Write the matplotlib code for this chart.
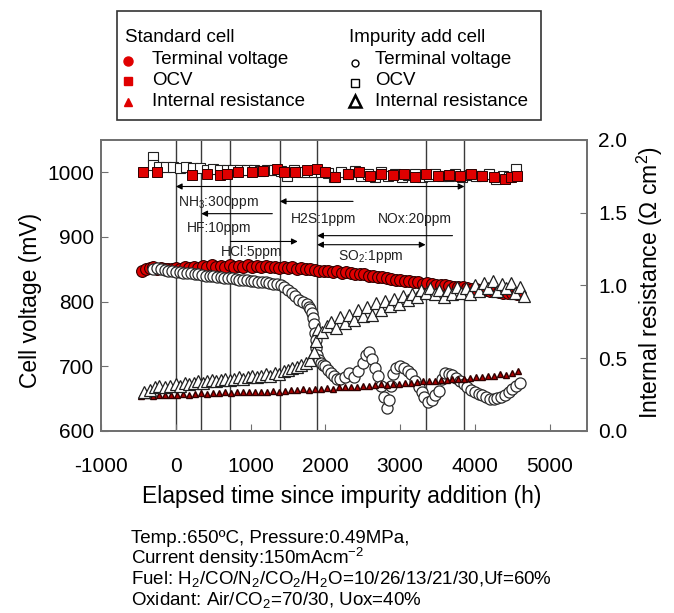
import matplotlib
matplotlib.use('Agg')
import matplotlib.pyplot as plt
from matplotlib.patches import Rectangle

plt.rcParams['font.family'] = ['Liberation Sans', 'DejaVu Sans']
plt.rcParams['mathtext.fontset'] = 'custom'
plt.rcParams['mathtext.rm'] = 'Liberation Sans'
plt.rcParams['mathtext.it'] = 'Liberation Sans:italic'
plt.rcParams['axes.unicode_minus'] = False

# --- data ---
# standard cell, terminal voltage (mV)
std_tv_t = [-450, -400, -350, -300, -250, -200, -150, -100, -50, 0,
            60, 120, 180, 240, 300, 360, 420, 480, 540, 600,
            660, 720, 780, 840, 900, 960, 1020, 1080, 1140, 1200,
            1260, 1320, 1380, 1440, 1500, 1560, 1620, 1680, 1740, 1800,
            1860, 1920, 1980, 2040, 2100, 2160, 2220, 2280, 2340, 2400,
            2460, 2520, 2580, 2640, 2700, 2760, 2820, 2880, 2940, 3000,
            3060, 3120, 3180, 3240, 3300, 3360, 3420, 3480, 3540, 3600,
            3660, 3720, 3780, 3840, 3900, 3960, 4020, 4080, 4140, 4200,
            4260, 4320, 4380, 4440, 4500, 4560]
std_tv = [847, 850, 852, 853, 851, 852, 850, 851, 850, 852,
          851, 853, 852, 854, 852, 855, 853, 856, 854, 855,
          853, 856, 854, 855, 853, 856, 854, 855, 853, 855,
          853, 854, 852, 854, 852, 853, 851, 852, 850, 851,
          849, 848, 847, 848, 846, 847, 845, 846, 844, 843,
          842, 842, 840, 840, 838, 838, 836, 835, 834, 834,
          832, 832, 830, 830, 828, 829, 827, 826, 826, 825,
          824, 823, 823, 822, 821, 820, 819, 818, 818, 816,
          816, 815, 814, 813, 813, 812]

# standard cell, OCV (mV)
std_ocv_t = [-440, -250, 220, 420, 590, 680, 830, 1020, 1170, 1350, 1450, 1600,
             1750, 1890, 2000, 2130, 2300, 2450, 2600, 2750, 2900, 3050, 3200,
             3350, 3500, 3650, 3800, 3950, 4100, 4250, 4400, 4480, 4560]
std_ocv = [1000, 1000, 996, 998, 996, 997, 1000, 1000, 1002, 1005, 1000, 1000,
           1003, 1005, 1000, 993, 998, 1000, 995, 997, 996, 998, 993,
           997, 995, 996, 994, 997, 995, 993, 990, 992, 995]

# standard cell, internal resistance (ohm cm2)
std_ir_t = [-460, -380, -300, -220, -140, -60, 20, 100, 180, 260, 340, 420,
            500, 580, 660, 740, 820, 900, 980, 1060, 1140, 1220, 1300, 1380,
            1460, 1540, 1620, 1700, 1780, 1860, 1940, 2020, 2100, 2180, 2260,
            2340, 2420, 2500, 2580, 2660, 2740, 2820, 2900, 2980, 3060, 3140,
            3220, 3300, 3380, 3460, 3540, 3620, 3700, 3780, 3860, 3940, 4020,
            4100, 4180, 4260, 4340, 4420, 4500, 4580]
std_ir = [0.24, 0.245, 0.24, 0.25, 0.245, 0.25, 0.25, 0.255, 0.25, 0.255, 0.26, 0.255,
          0.26, 0.26, 0.265, 0.26, 0.265, 0.265, 0.27, 0.265, 0.27, 0.27, 0.275, 0.27,
          0.275, 0.28, 0.28, 0.285, 0.28, 0.29, 0.29, 0.295, 0.29, 0.30, 0.30,
          0.305, 0.30, 0.31, 0.31, 0.315, 0.32, 0.315, 0.32, 0.325, 0.33, 0.33,
          0.335, 0.34, 0.34, 0.345, 0.35, 0.35, 0.355, 0.36, 0.36, 0.365, 0.37,
          0.37, 0.375, 0.38, 0.39, 0.385, 0.40, 0.41]

# impurity add cell, terminal voltage (mV)
imp_tv_t = [-300, -250, -200, -150, -100, -50, 0, 50, 100, 150,
            200, 250, 300, 350, 400, 450, 500, 550, 600, 650,
            700, 750, 800, 850, 900, 950, 1000, 1050, 1100, 1150,
            1200, 1250, 1300, 1350, 1400, 1450, 1500, 1550, 1600, 1650,
            1700, 1750, 1780, 1800, 1820, 1835, 1850, 1860, 1870, 1880,
            1890, 1910, 1940, 1970, 2000, 2040, 2080, 2120, 2160, 2200,
            2260, 2320, 2380, 2440, 2500, 2540, 2580, 2620, 2660, 2700,
            2740, 2780, 2820, 2850, 2880, 2910, 2950, 3000, 3050, 3100,
            3150, 3200, 3250, 3290, 3320, 3370, 3420, 3470, 3520, 3560,
            3600, 3650, 3700, 3750, 3800, 3850, 3900, 3950, 4000, 4050,
            4100, 4150, 4200, 4250, 4300, 4350, 4400, 4450, 4500, 4550, 4600]
imp_tv = [850, 852, 850, 849, 848, 847, 846, 846, 845, 845,
          844, 843, 843, 841, 840, 840, 839, 838, 838, 837,
          836, 836, 835, 834, 834, 833, 832, 832, 831, 830,
          830, 829, 828, 827, 826, 822, 818, 813, 808, 803,
          800, 796, 792, 788, 783, 775, 765, 752, 740, 728,
          718, 710, 705, 702, 700, 695, 690, 685, 681, 680,
          684, 690, 683, 692, 705, 718, 722, 712, 698, 685,
          670, 652, 636, 648, 670, 688, 697, 700, 697, 693,
          688, 678, 668, 660, 652, 645, 648, 655, 662, 680,
          690, 688, 686, 682, 678, 672, 668, 664, 660, 657,
          655, 652, 650, 650, 651, 652, 655, 660, 665, 670, 674]

# impurity add cell, OCV (mV)
imp_ocv_t = [-310, -310, -220, -130, -40, 50, 140, 230, 320, 410, 500, 590,
             680, 770, 860, 950, 1040, 1130, 1220, 1310, 1400, 1490, 1580,
             1670, 1760, 1850, 1940, 2030, 2120, 2210, 2300, 2390, 2480, 2570,
             2660, 2750, 2840, 2930, 3020, 3110, 3200, 3290, 3380, 3470, 3560,
             3650, 3740, 3830, 3920, 4010, 4100, 4190, 4280, 4370, 4460, 4550]
imp_ocv = [1023, 1012, 1008, 1008, 1008, 1007, 1008, 1006, 1006, 1004, 1005, 1004,
           1003, 1004, 1003, 1004, 1003, 1002, 1004, 1003, 1002, 995, 1003,
           1001, 1000, 1000, 1001, 999, 993, 1000, 998, 1002, 995, 997,
           993, 1000, 994, 998, 992, 996, 998, 993, 995, 998, 994,
           995, 997, 993, 996, 995, 994, 997, 990, 995, 993, 1005]

# impurity add cell, internal resistance (ohm cm2)
imp_ir_t = [-420, -350, -280, -220, -150, -80, 0, 60, 120, 180, 240, 300,
            360, 420, 480, 540, 600, 660, 720, 780, 840, 900, 960, 1020,
            1080, 1140, 1200, 1260, 1320, 1380, 1440, 1500, 1560, 1620, 1680,
            1740, 1800, 1850, 1880, 1900, 1960, 2020, 2080, 2140, 2200, 2260,
            2320, 2380, 2440, 2500, 2560, 2620, 2680, 2740, 2800, 2860, 2920,
            2980, 3040, 3100, 3160, 3220, 3280, 3340, 3400, 3460, 3520, 3580,
            3640, 3700, 3760, 3820, 3880, 3940, 4000, 4060, 4120, 4180, 4240,
            4300, 4360, 4420, 4480, 4540, 4600, 4650]
imp_ir = [0.27, 0.28, 0.30, 0.31, 0.30, 0.31, 0.32, 0.31, 0.33, 0.32, 0.33, 0.34,
          0.33, 0.34, 0.35, 0.34, 0.35, 0.36, 0.35, 0.36, 0.37, 0.36, 0.37, 0.38,
          0.37, 0.38, 0.39, 0.38, 0.40, 0.39, 0.41, 0.42, 0.43, 0.44, 0.45,
          0.47, 0.49, 0.54, 0.62, 0.70, 0.68, 0.72, 0.75, 0.71, 0.78, 0.74,
          0.80, 0.76, 0.83, 0.79, 0.85, 0.80, 0.88, 0.83, 0.89, 0.86, 0.91,
          0.87, 0.93, 0.90, 0.94, 0.92, 0.97, 0.95, 0.98, 0.94, 0.97, 0.92,
          0.97, 0.94, 0.99, 0.95, 0.98, 0.94, 1.00, 0.96, 1.02, 0.98, 1.03,
          0.96, 1.01, 0.98, 1.02, 0.95, 0.99, 0.93]

# impurity addition / stop times (h)
event_times = [0, 340, 720, 1390, 1890, 3340, 3860]

# impurity periods: label, arrow tail, arrow head, arrow level (mV), double headed
imp_names = ['NH$_3$:300ppm', 'HF:10ppm', 'HCl:5ppm', 'H2S:1ppm', 'SO$_2$:1ppm', 'NOx:20ppm']
arrow_tail = [0, 1290, 730, 2370, 1890, 3700]
arrow_head = [3860, 340, 1630, 1390, 3340, 1890]
arrow_level = [978, 936, 893, 955, 888, 902]
arrow_double = [True, False, False, False, True, False]
name_x = [30, 150, 600, 1540, 2170, 2700]
name_y = [953, 914, 877, 928, 869, 928]

red = '#e00000'
dark_red = '#300000'

fig = plt.figure(figsize=(6.74, 6.13), dpi=100)
ax = fig.add_axes([0.150, 0.297, 0.721, 0.4747])
ax2 = ax.twinx()

for t in event_times:
    ax.axvline(t, color='#3a3a3a', lw=1.0, zorder=1)

ax.plot(imp_ocv_t, imp_ocv, 's', ms=7, mfc='white', mec='#202020', mew=0.8, zorder=3)
ax.plot(std_ocv_t, std_ocv, 's', ms=7, mfc=red, mec=dark_red, mew=0.7, zorder=3)
ax.plot(std_tv_t, std_tv, 'o', ms=8.5, mfc=red, mec=dark_red, mew=0.8, zorder=3)
ax.plot(imp_tv_t, imp_tv, 'o', ms=8, mfc='white', mec='#2a2a2a', mew=0.9, zorder=4)

ax2.plot(std_ir_t, std_ir, '^', ms=4.5, mfc='#b00000', mec=dark_red, mew=1.0)
ax2.plot(imp_ir_t, imp_ir, '^', ms=8, mfc='white', mec='#202020', mew=0.9)

for i in range(len(imp_names)):
    style = '<|-|>' if arrow_double[i] else '-|>'
    ax.annotate('', xy=(arrow_head[i], arrow_level[i]), xytext=(arrow_tail[i], arrow_level[i]),
                arrowprops=dict(arrowstyle=style, color='black', lw=0.8,
                                mutation_scale=9, shrinkA=0, shrinkB=0), zorder=5)
    ax.text(name_x[i], name_y[i], imp_names[i], fontsize=10, color='#222222',
            ha='left', va='center', zorder=5)

ax.set_xlim(-1000, 5500)
ax.set_ylim(600, 1050)
ax2.set_ylim(0, 2.0)
ax.set_xticks([-1000, 0, 1000, 2000, 3000, 4000, 5000])
ax.set_yticks([600, 700, 800, 900, 1000])
ax2.set_yticks([0.0, 0.5, 1.0, 1.5, 2.0])
ax2.set_yticklabels(['0.0', '0.5', '1.0', '1.5', '2.0'])

ax.tick_params(axis='x', direction='in', length=5, pad=19, labelsize=15, color='#707070')
ax.tick_params(axis='y', direction='in', length=5, pad=5, labelsize=15, color='#707070')
ax2.tick_params(axis='y', direction='in', length=5, pad=8, labelsize=15, color='#707070')
for a in (ax, ax2):
    for s in a.spines.values():
        s.set_color('#707070')
        s.set_linewidth(1.3)

fig.text(30 / 674, 1 - 300 / 613, 'Cell voltage (mV)', rotation=90, ha='center', va='center', fontsize=16.5)
fig.text(650 / 674, 1 - 283 / 613, 'Internal resistance (\u03a9 cm$^2$)', rotation=90,
         ha='center', va='center', fontsize=16.5)
fig.text(342 / 674, 1 - 497 / 613, 'Elapsed time since impurity addition (h)',
         ha='center', va='center', fontsize=16.5)

notes = ['Temp.:650\u00baC, Pressure:0.49MPa,',
         'Current density:150mAcm$^{-2}$',
         'Fuel: H$_2$/CO/N$_2$/CO$_2$/H$_2$O=10/26/13/21/30,Uf=60%',
         'Oxidant: Air/CO$_2$=70/30, Uox=40%']
for i, line in enumerate(notes):
    fig.text(131 / 674, 1 - (543 + 20.5 * i) / 613, line, ha='left', va='baseline', fontsize=13.5)

# legend box drawn in pixel coordinates
lg = fig.add_axes([0, 0, 1, 1])
lg.set_xlim(0, 674)
lg.set_ylim(613, 0)
lg.axis('off')
lg.add_patch(Rectangle((117, 11), 424, 109, fill=False, edgecolor='#333333', lw=1.2))
lg.text(125, 37, 'Standard cell', fontsize=13.5, va='center')
lg.text(349, 37, 'Impurity add cell', fontsize=13.5, va='center')
lg.plot([128], [61], 'o', ms=6.5, color=red)
lg.plot([128], [81], 's', ms=6, color=red)
lg.plot([128], [102], '^', ms=5.5, color=red)
lg.plot([355], [63], 'o', ms=5, mfc='white', mec='black', mew=1.0)
lg.plot([355], [83], 's', ms=5.5, mfc='white', mec='black', mew=1.0)
lg.plot([355], [101], '^', ms=8.5, mfc='white', mec='black', mew=1.8)
labels = ['Terminal voltage', 'OCV', 'Internal resistance']
for i, lab in enumerate(labels):
    lg.text(152, 60 + 20.5 * i, lab, fontsize=13.5, va='center')
    lg.text(375, 60 + 20.5 * i, lab, fontsize=13.5, va='center')

fig.savefig('out.png', dpi=100)
